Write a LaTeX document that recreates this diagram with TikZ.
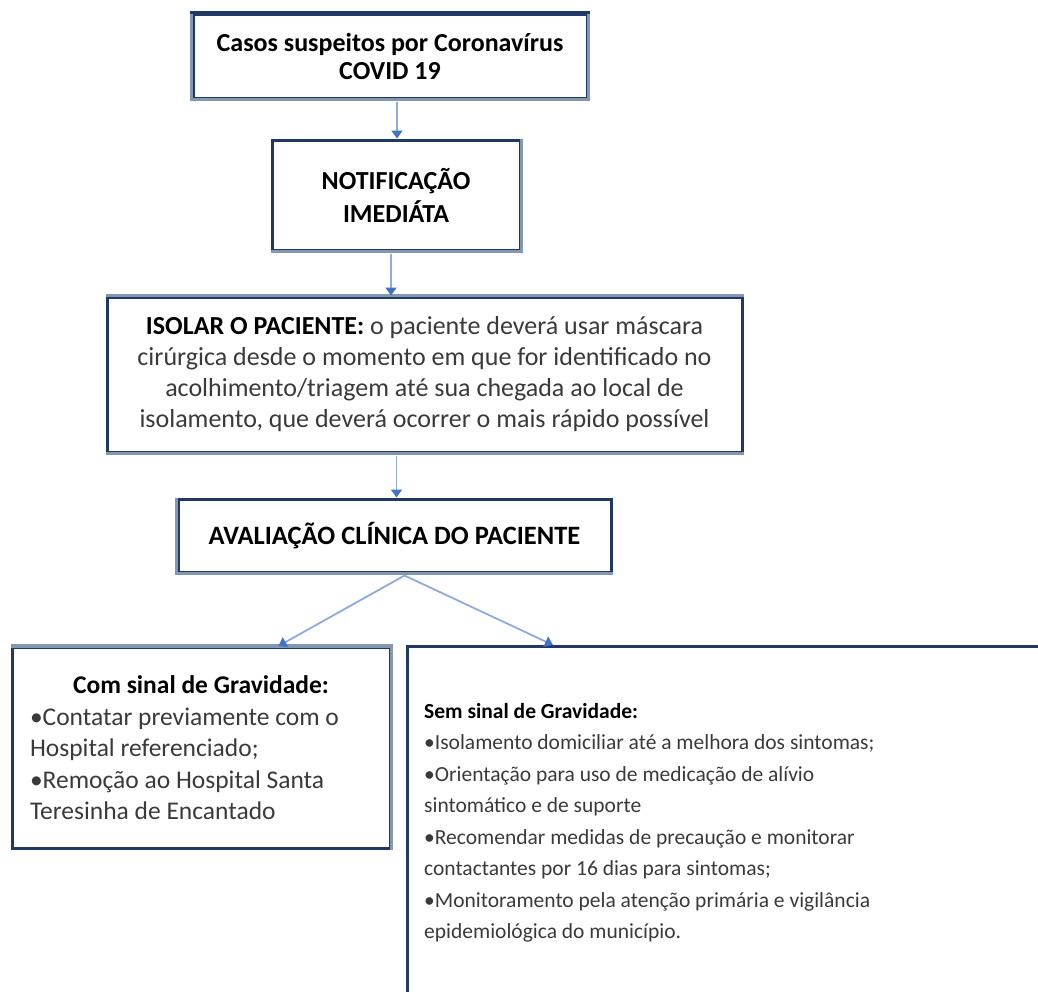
\documentclass[tikz,border=0pt]{standalone}
\usepackage{fontspec}
\setmainfont{Carlito}
\usetikzlibrary{arrows.meta,calc}
\definecolor{navy}{HTML}{1F3864}
\definecolor{sidegray}{HTML}{8497B0}
\definecolor{lineblue}{HTML}{8FAADC}
\definecolor{tipblue}{HTML}{4472C4}
\definecolor{txt}{HTML}{3A3A3A}
\begin{document}
\begin{tikzpicture}[x=1pt,y=-1pt,
  box/.style={draw=navy,line width=3pt,fill=white,rectangle,inner sep=0pt,align=center},
  shade/.style={draw=sidegray,line width=3.5pt},
  conn/.style={draw=lineblue,line width=1.8pt,-{Triangle[width=11pt,length=8pt,color=tipblue]}},
]
\clip (0,0) rectangle (1038,991);
\fill[white] (0,0) rectangle (1038,991);

% Box 1
\node[box,font=\fontsize{26}{28}\selectfont,minimum width=394pt,minimum height=84pt] (b1) at (390,56)
  {\textbf{Casos suspeitos por Coronavírus}\\\textbf{COVID 19}};
\draw[shade] (b1.north west) -- (b1.south west) -- (b1.south east) -- (b1.north east);
\draw[draw=navy,line width=3pt] ([xshift=-1.5pt]b1.north west) -- ([xshift=1.5pt]b1.north east);

% Box 2
\node[box,font=\fontsize{26}{33}\selectfont,minimum width=248pt,minimum height=110pt] (b2) at (396,195)
  {\textbf{NOTIFICAÇÃO}\\\textbf{IMEDIÁTA}};
\draw[shade] (b2.south west) -- (b2.south east) -- (b2.north east);

% Box 3
\node[box,font=\fontsize{26}{31}\selectfont,minimum width=635pt,minimum height=155pt] (b3) at (424.5,374.5)
  {\textbf{ISOLAR O PACIENTE:} {\color{txt}o paciente deverá usar máscara}\\
   {\color{txt}cirúrgica desde o momento em que for identificado no}\\
   {\color{txt}acolhimento/triagem até sua chegada ao local de}\\
   {\color{txt}isolamento, que deverá ocorrer o mais rápido possível}};
\draw[shade] (b3.north west) -- (b3.north east);
\draw[shade] (b3.south west) -- (b3.south east);

% Box 4
\node[box,font=\fontsize{26.5}{28}\selectfont,minimum width=433pt,minimum height=73pt] (b4) at (394.5,535.5)
  {\textbf{AVALIAÇÃO CLÍNICA DO PACIENTE}};
\draw[shade] (b4.north west) -- (b4.south west) -- (b4.south east);

% Box 5
\node[box,font=\fontsize{25.5}{31.5}\selectfont,minimum width=378pt,minimum height=201pt,
      text width=342pt,align=flush left] (b5) at (201,748)
  {\makebox[342pt][c]{\textbf{Com sinal de Gravidade:}}\\
   {\color{txt}•Contatar previamente com o}\\
   {\color{txt}Hospital referenciado;}\\
   {\color{txt}•Remoção ao Hospital Santa}\\
   {\color{txt}Teresinha de Encantado}};
\draw[shade] (b5.north west) -- (b5.north east) -- (b5.south east);

% Box 6
\node[box,minimum width=660pt,minimum height=370pt,anchor=north west] (b6) at (406,645) {};
\node[font=\fontsize{21.5}{31.5}\selectfont,anchor=north west,align=flush left,inner sep=0pt] (t6) at (424,703)
  {\textbf{Sem sinal de Gravidade:}\\
   {\color{txt}•Isolamento domiciliar até a melhora dos sintomas;}\\
   {\color{txt}•Orientação para uso de medicação de alívio}\\
   {\color{txt}sintomático e de suporte}\\
   {\color{txt}•Recomendar medidas de precaução e monitorar}\\
   {\color{txt}contactantes por 16 dias para sintomas;}\\
   {\color{txt}•Monitoramento pela atenção primária e vigilância}\\
   {\color{txt}epidemiológica do município.}};

% Connectors
\coordinate (a1s) at ($(b1.south)+(7,2)$);
\draw[conn] (a1s) -- (a1s |- b2.north);
\coordinate (a2s) at ($(b2.south)+(-5,2)$);
\draw[conn] (a2s) -- (a2s |- b3.north);
\coordinate (a3s) at ($(b3.south)+(-28,2)$);
\draw[conn] (a3s) -- (a3s |- b4.north);
\coordinate (a4s) at ($(b4.south)+(10,2)$);
\coordinate (a5e) at ($(b5.north west)+(268,0)$);
\coordinate (a6e) at ($(b6.north west)+(147,0)$);
\draw[conn] (a4s) -- (a5e);
\draw[conn] (a4s) -- (a6e);
\end{tikzpicture}
\end{document}
